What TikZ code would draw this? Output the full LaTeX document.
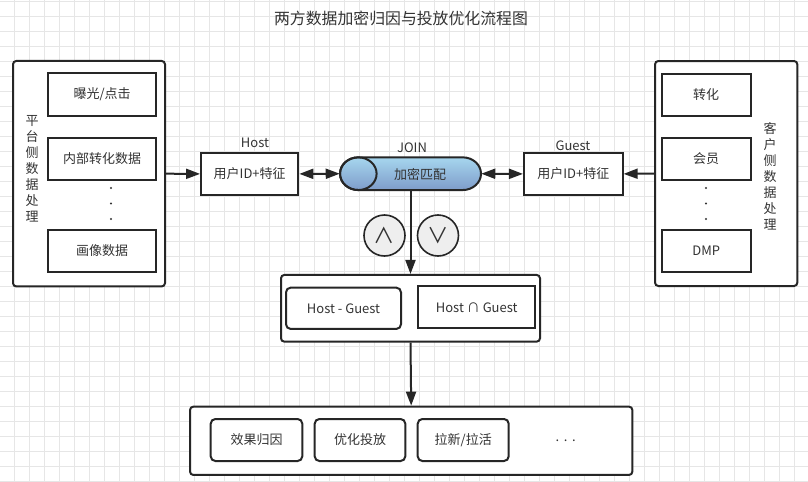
\documentclass[tikz,border=0pt]{standalone}
\usepackage{fontspec}
\setmainfont{Noto Sans CJK SC}
\usetikzlibrary{arrows.meta}
\definecolor{gridc}{HTML}{E6E6E6}
\definecolor{linec}{HTML}{262626}
\definecolor{txtc}{HTML}{333333}
\definecolor{cyltop}{HTML}{A6D6EE}
\definecolor{cylbot}{HTML}{7E9CCA}
\definecolor{circfill}{HTML}{EEEEEE}
\def\pxu{0.75pt}
\tikzset{
  boxbase/.style={draw=linec, line width=1.5pt, fill=white, inner sep=0pt, text=txtc,
    font=\fontsize{9.75pt}{12pt}\selectfont},
  sqbox/.style={boxbase},
  rbox/.style={boxbase, rounded corners=3.5pt},
  outerbox/.style={boxbase, rounded corners=2.5pt},
  lbl/.style={text=txtc, inner sep=0pt, font=\fontsize{9.75pt}{12pt}\selectfont},
  vlbl/.style={text=txtc, inner sep=0pt, align=center, font=\fontsize{9.75pt}{12pt}\selectfont},
  arr/.style={draw=linec, line width=1.5pt, -{Triangle[length=10.5pt,width=7.5pt]}},
  darr/.style={draw=linec, line width=1.5pt, {Triangle[length=10.5pt,width=7.5pt]}-{Triangle[length=10.5pt,width=7.5pt]}},
  dotmark/.style={circle, fill=txtc, inner sep=0pt, minimum size=1.8pt},
  opcirc/.style={circle, draw=linec, line width=1.2pt, fill=circfill, inner sep=0pt,
    minimum size=41*\pxu, text=txtc, font=\fontsize{16pt}{16pt}\selectfont},
}
\begin{document}
\begin{tikzpicture}[x=0.75pt, y=-0.75pt]
\useasboundingbox (0,0) rectangle (808,482);
\fill[white] (0,0) rectangle (808,482);
% grid
\foreach \gx in {-1,14,...,809} \draw[gridc, line width=0.75pt] (\gx,0) -- (\gx,482);
\foreach \gy in {1,16,...,482} \draw[gridc, line width=0.75pt] (0,\gy) -- (808,\gy);

% title
\node[lbl, font=\fontsize{11.9pt}{14pt}\selectfont] (title) at (401,18) {两方数据加密归因与投放优化流程图};

% left group
\node[outerbox, minimum width=152*\pxu, minimum height=225.5*\pxu] (lout) at (89,173.7) {};
\node[sqbox, minimum width=108.5*\pxu, minimum height=42.5*\pxu] (l1) at (102.2,94.7) {曝光/点击};
\node[sqbox, minimum width=108.5*\pxu, minimum height=42.3*\pxu] (l2) at (102.2,158.9) {内部转化数据};
\node[sqbox, minimum width=108.5*\pxu, minimum height=42*\pxu] (l3) at (102.2,251) {画像数据};
\node[dotmark] (ld1) at (111,188) {};
\node[dotmark] (ld2) at (111,203.5) {};
\node[dotmark] (ld3) at (111,219) {};
\node[vlbl] (llbl) at (32,169) {平\\台\\侧\\数\\据\\处\\理};

% right group
\node[outerbox, minimum width=142.3*\pxu, minimum height=225*\pxu] (rout) at (726.2,173.5) {};
\node[sqbox, minimum width=89*\pxu, minimum height=41.7*\pxu] (r1) at (706.2,94.8) {转化};
\node[sqbox, minimum width=89*\pxu, minimum height=42.3*\pxu] (r2) at (706.2,158.9) {会员};
\node[sqbox, minimum width=89*\pxu, minimum height=42*\pxu] (r3) at (706.2,251) {DMP};
\node[dotmark] (rd1) at (706,188) {};
\node[dotmark] (rd2) at (706,203.5) {};
\node[dotmark] (rd3) at (706,219) {};
\node[vlbl] (rlbl) at (770,176) {客\\户\\侧\\数\\据\\处\\理};

% host / guest
\node[sqbox, minimum width=97.3*\pxu, minimum height=42.3*\pxu] (host) at (249.7,173.9) {用户ID+特征};
\node[lbl] (hostlbl) at (255,143) {Host};
\node[sqbox, minimum width=98.7*\pxu, minimum height=42.3*\pxu] (guest) at (573.3,173.9) {用户ID+特征};
\node[lbl] (guestlbl) at (573,146) {Guest};

% cylinder
\node[inner sep=0pt, minimum width=141*\pxu, minimum height=32.7*\pxu] (cyl) at (410.5,173.7) {};
\shade[top color=cyltop, bottom color=cylbot]
  (358.3,157.35) -- (462.7,157.35) arc[start angle=90, end angle=-90, x radius=18.3, y radius=-16.35]
  -- (358.3,190.05) arc[start angle=-90, end angle=-270, x radius=18.3, y radius=-16.35] -- cycle;
\draw[linec, line width=1.5pt]
  (358.3,157.35) -- (462.7,157.35) arc[start angle=90, end angle=-90, x radius=18.3, y radius=-16.35]
  -- (358.3,190.05) arc[start angle=-90, end angle=-270, x radius=18.3, y radius=-16.35] -- cycle;
\draw[linec, line width=1.5pt] (358.3,173.7) ellipse[x radius=18.3, y radius=16.35];
\node[lbl] (cyltxt) at (420,174) {加密匹配};
\node[lbl] (joinlbl) at (412,148) {JOIN};

% operation circles
\node[opcirc] (andc) at (384.5,235.5) {∧};
\node[opcirc] (orc) at (438,235.5) {∨};

% middle group
\node[outerbox, minimum width=259*\pxu, minimum height=66.7*\pxu] (mid) at (410.5,308.3) {};
\node[rbox, minimum width=115*\pxu, minimum height=41.3*\pxu] (hg) at (343.5,308.3) {Host - Guest};
\node[sqbox, minimum width=116.7*\pxu, minimum height=42.3*\pxu] (hig) at (476.7,307.2) {Host ∩ Guest};

% bottom group
\node[outerbox, minimum width=442.3*\pxu, minimum height=68.3*\pxu] (bot) at (411.2,440.8) {};
\node[rbox, minimum width=91.6*\pxu, minimum height=42*\pxu] (b1) at (256.5,440) {效果归因};
\node[rbox, minimum width=90.6*\pxu, minimum height=42*\pxu] (b2) at (360,440) {优化投放};
\node[rbox, minimum width=91*\pxu, minimum height=42*\pxu] (b3) at (463.2,440) {拉新/拉活};
\node[lbl] (bdots) at (565.7,441) {.\hspace{3.4pt}.\hspace{3.4pt}.};

% connectors
\draw[arr] (lout.east) -- (host.west);
\draw[darr] (host.east) -- (cyl.west);
\draw[darr] (cyl.east) -- (guest.west);
\draw[arr] (rout.west) -- (guest.east);
\draw[arr] (cyl.south) -- (mid.north);
\draw[arr] (mid.south) -- (bot.north);
\end{tikzpicture}
\end{document}
